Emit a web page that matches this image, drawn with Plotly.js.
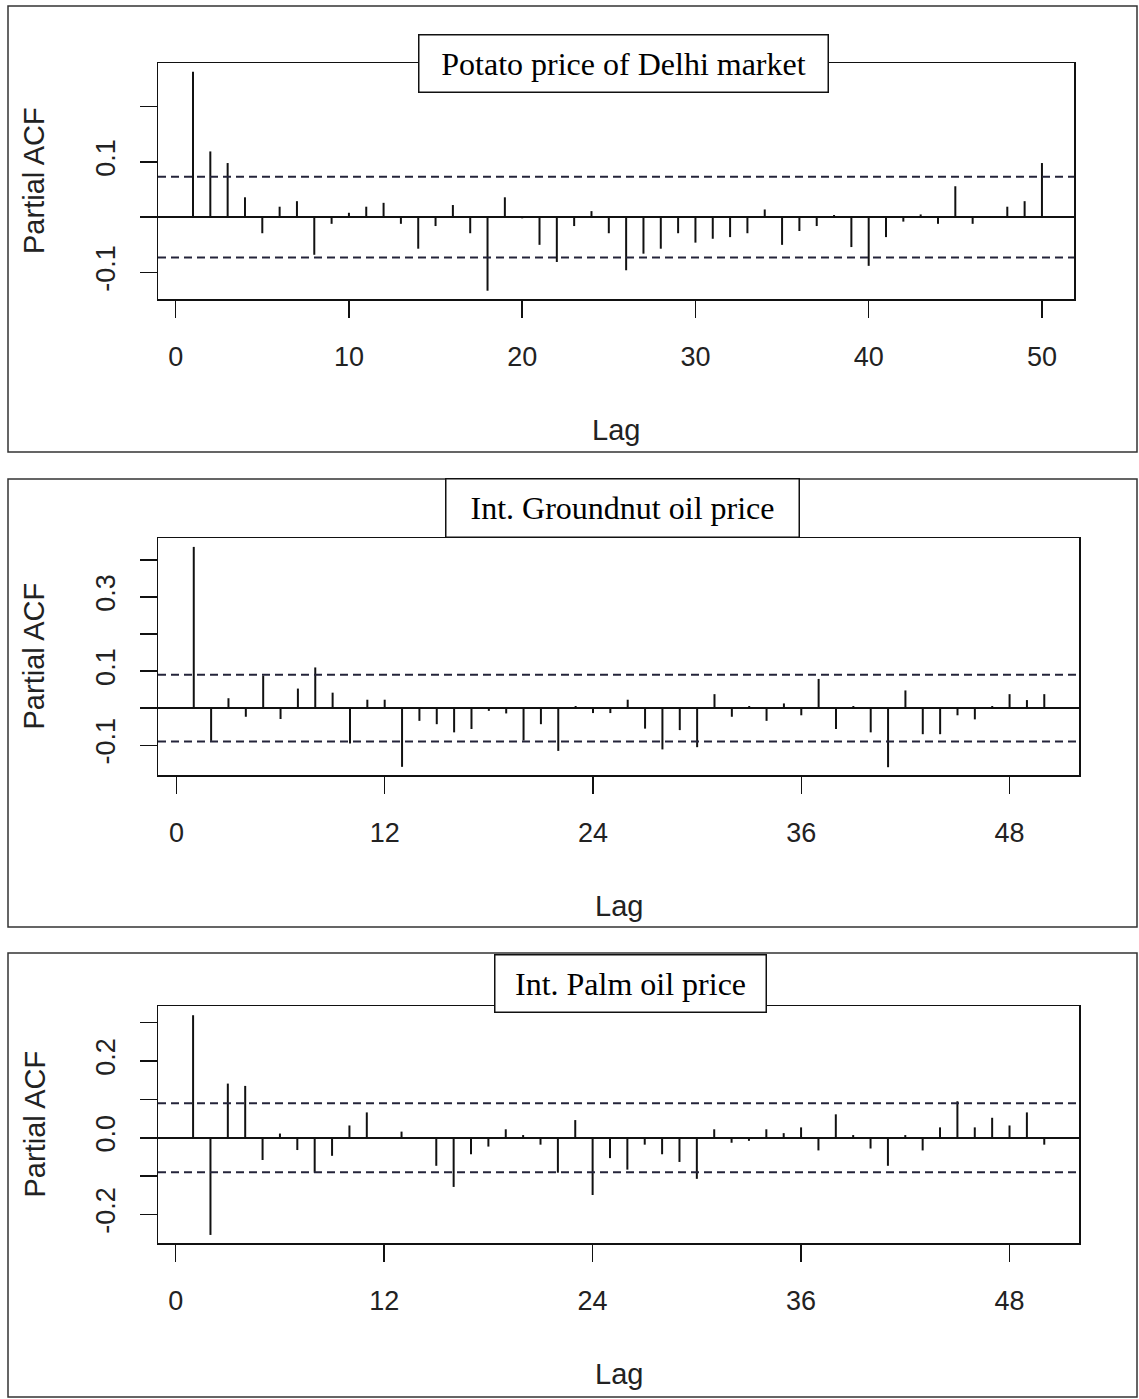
<!DOCTYPE html>
<html>
<head>
<meta charset="utf-8">
<script src="https://cdn.plot.ly/plotly-3.0.1.min.js"></script>
<style>
  html, body { margin: 0; padding: 0; background: #ffffff; }
  #chart { width: 1139px; height: 1399px; }
</style>
</head>
<body>
<div id="chart"></div>
<script>
// ---------------- DATA ----------------
const lags = [1, 2, 3, 4, 5, 6, 7, 8, 9, 10,
              11, 12, 13, 14, 15, 16, 17, 18, 19, 20,
              21, 22, 23, 24, 25, 26, 27, 28, 29, 30,
              31, 32, 33, 34, 35, 36, 37, 38, 39, 40,
              41, 42, 43, 44, 45, 46, 47, 48, 49, 50];

const pacfPotato = [0.263, 0.119, 0.098, 0.036, -0.029, 0.019, 0.029, -0.068, -0.012, 0.008,
                    0.019, 0.026, -0.012, -0.057, -0.016, 0.022, -0.029, -0.133, 0.036, -0.002,
                    -0.050, -0.081, -0.016, 0.011, -0.029, -0.096, -0.066, -0.057, -0.029, -0.046,
                    -0.039, -0.036, -0.029, 0.014, -0.050, -0.025, -0.016, 0.004, -0.054, -0.088,
                    -0.036, -0.008, 0.005, -0.012, 0.056, -0.012, 0.001, 0.019, 0.029, 0.098];

const pacfGroundnut = [0.435, -0.088, 0.027, -0.023, 0.088, -0.029, 0.053, 0.110, 0.042, -0.095,
                       0.023, 0.023, -0.158, -0.034, -0.043, -0.065, -0.056, -0.007, -0.014, -0.087,
                       -0.043, -0.115, 0.006, -0.013, -0.013, 0.023, -0.055, -0.111, -0.059, -0.105,
                       0.038, -0.023, 0.006, -0.034, 0.013, -0.019, 0.079, -0.056, 0.006, -0.065,
                       -0.159, 0.048, -0.070, -0.070, -0.019, -0.030, 0.006, 0.038, 0.022, 0.038];

const pacfPalm = [0.319, -0.253, 0.141, 0.135, -0.058, 0.011, -0.032, -0.091, -0.047, 0.032,
                  0.066, 0.002, 0.016, -0.002, -0.073, -0.128, -0.043, -0.023, 0.022, 0.007,
                  -0.018, -0.091, 0.046, -0.149, -0.053, -0.083, -0.018, -0.043, -0.063, -0.107,
                  0.022, -0.013, -0.008, 0.022, 0.012, 0.027, -0.033, 0.061, 0.007, -0.028,
                  -0.073, 0.007, -0.033, 0.027, 0.095, 0.027, 0.052, 0.032, 0.066, -0.018];

const ciPotato = 0.073;
const ciGroundnut = 0.090;
const ciPalm = 0.090;

const titles = ['Potato price of Delhi market', 'Int. Groundnut oil price', 'Int. Palm oil price'];
const xTitle = 'Lag';
const yTitle = 'Partial ACF';

const xTicks1 = [0, 10, 20, 30, 40, 50];
const xTicks2 = [0, 12, 24, 36, 48];
const xTicks3 = [0, 12, 24, 36, 48];

const yTicks1 = [-0.1, 0, 0.1, 0.2];
const yTickText1 = ['-0.1', '', '0.1', ''];
const yTicks2 = [-0.1, 0, 0.1, 0.2, 0.3, 0.4];
const yTickText2 = ['-0.1', '', '0.1', '', '0.3', ''];
const yTicks3 = [-0.2, -0.1, 0, 0.1, 0.2, 0.3];
const yTickText3 = ['-0.2', '', '0.0', '', '0.2', ''];

// ---------------- LAYOUT (pixel geometry) ----------------
const W = 1139, H = 1399;
const px = v => v / W;
const py = v => 1 - v / H;

const panels = [
  { vals: pacfPotato, ci: ciPotato, title: titles[0],
    xt: xTicks1, yt: yTicks1, ytt: yTickText1,
    plot: [158, 63, 1074, 299], xr: [-1.02, 51.85], yr: [-0.148, 0.279],
    frame: [8, 6, 1137, 452], tbox: [418, 35, 828, 93] },
  { vals: pacfGroundnut, ci: ciGroundnut, title: titles[1],
    xt: xTicks2, yt: yTicks2, ytt: yTickText2,
    plot: [158, 538, 1079, 775], xr: [-1.06, 52.0], yr: [-0.180, 0.459],
    frame: [8, 479, 1137, 927], tbox: [445, 479, 799, 538] },
  { vals: pacfPalm, ci: ciPalm, title: titles[2],
    xt: xTicks3, yt: yTicks3, ytt: yTickText3,
    plot: [158, 1006, 1079, 1243], xr: [-1.02, 52.0], yr: [-0.274, 0.343],
    frame: [8, 953, 1137, 1397], tbox: [494, 954, 766, 1012] }
];

const sansFont = 'Liberation Sans, Arial, Helvetica, sans-serif';
const serifFont = 'Liberation Serif, Times New Roman, serif';
const ink = '#111111';
const textInk = '#222222';

const traces = [];
const layout = {
  width: W, height: H,
  margin: { l: 0, r: 0, t: 0, b: 0 },
  paper_bgcolor: '#ffffff',
  plot_bgcolor: '#ffffff',
  showlegend: false,
  shapes: [],
  annotations: []
};

panels.forEach((p, i) => {
  const n = i === 0 ? '' : String(i + 1);
  const xa = 'x' + n, ya = 'y' + n;

  const xs = [], ys = [];
  lags.forEach((k, j) => { xs.push(k, k, null); ys.push(0, p.vals[j], null); });
  traces.push({
    type: 'scatter', mode: 'lines', x: xs, y: ys,
    xaxis: xa, yaxis: ya,
    line: { color: ink, width: 2 },
    hoverinfo: 'skip'
  });

  const [l, t, r, b] = p.plot;
  layout['xaxis' + n] = {
    domain: [px(l), px(r)], range: p.xr, anchor: ya,
    tickmode: 'array', tickvals: p.xt,
    ticks: 'outside', ticklen: 17, tickwidth: 1.5, tickcolor: ink,
    showline: true, mirror: true, linecolor: ink, linewidth: 1.5,
    showgrid: false, zeroline: false,
    tickfont: { family: sansFont, size: 27, color: textInk },
    ticklabelstandoff: 16
  };
  layout['yaxis' + n] = {
    domain: [py(b), py(t)], range: p.yr, anchor: xa,
    tickmode: 'array', tickvals: p.yt, ticktext: p.ytt, tickangle: -90,
    ticks: 'outside', ticklen: 17, tickwidth: 1.5, tickcolor: ink,
    showline: true, mirror: true, linecolor: ink, linewidth: 1.5,
    showgrid: false,
    zeroline: true, zerolinecolor: ink, zerolinewidth: 1.5,
    tickfont: { family: sansFont, size: 27, color: textInk },
    ticklabelstandoff: 14
  };

  // confidence bounds
  [p.ci, -p.ci].forEach(c => {
    layout.shapes.push({
      type: 'line', xref: xa + ' domain', yref: ya,
      x0: 0, x1: 1, y0: c, y1: c,
      line: { color: '#24243a', width: 2, dash: '8px,5px' },
      layer: 'above'
    });
  });

  // outer frame
  const [fl, ft, fr, fb] = p.frame;
  layout.shapes.push({
    type: 'rect', xref: 'paper', yref: 'paper',
    x0: px(fl), x1: px(fr), y0: py(fb), y1: py(ft),
    line: { color: '#333333', width: 1.5 }, fillcolor: 'rgba(0,0,0,0)',
    layer: 'below'
  });

  // title box
  const [bl, bt, br, bb] = p.tbox;
  layout.annotations.push({
    xref: 'paper', yref: 'paper',
    x: px((bl + br) / 2), y: py((bt + bb) / 2),
    xanchor: 'center', yanchor: 'middle',
    text: p.title, showarrow: false,
    width: br - bl - 2, height: bb - bt - 2, borderpad: 0,
    bgcolor: '#ffffff', bordercolor: ink, borderwidth: 1.5,
    font: { family: serifFont, size: 32, color: '#000000' }
  });

  // axis titles
  layout.annotations.push({
    xref: 'paper', yref: 'paper',
    x: px((l + r) / 2), y: py(b + 131),
    xanchor: 'center', yanchor: 'middle',
    text: xTitle, showarrow: false,
    font: { family: sansFont, size: 29, color: textInk }
  });
  layout.annotations.push({
    xref: 'paper', yref: 'paper',
    x: px(34), y: py((t + b) / 2),
    xanchor: 'center', yanchor: 'middle', textangle: -90,
    text: yTitle, showarrow: false,
    font: { family: sansFont, size: 29, color: textInk }
  });
});

Plotly.newPlot('chart', traces, layout, { staticPlot: true, displayModeBar: false });
</script>
</body>
</html>
